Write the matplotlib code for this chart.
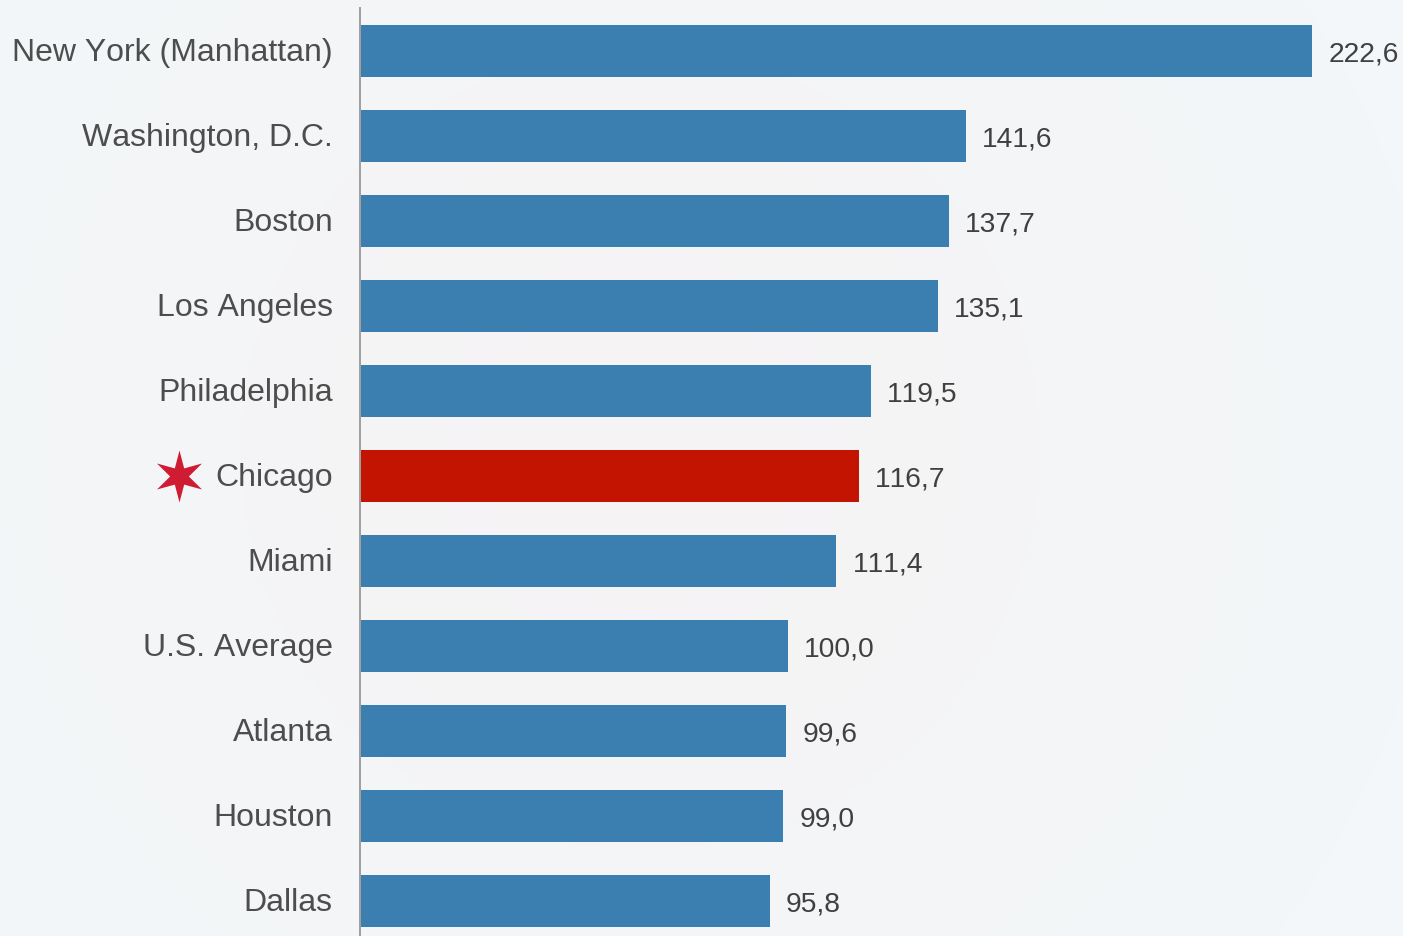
import numpy as np
import matplotlib
matplotlib.use("Agg")
import matplotlib.pyplot as plt
from matplotlib.path import Path

cities = ["New York (Manhattan)", "Washington, D.C.", "Boston", "Los Angeles",
          "Philadelphia", "Chicago", "Miami", "U.S. Average", "Atlanta",
          "Houston", "Dallas"]
values = [222.6, 141.6, 137.7, 135.1, 119.5, 116.7, 111.4, 100.0, 99.6, 99.0, 95.8]
highlight = "Chicago"

W, H, DPI = 1403, 937, 100
PX = 72 / DPI
plt.rcParams["font.family"] = ["Liberation Sans", "DejaVu Sans"]
plt.rcParams["text.kerning_factor"] = 20  # reference text is set without kerning

fig = plt.figure(figsize=(W / DPI, H / DPI), dpi=DPI)

# Soft radial page background
bg = fig.add_axes([0, 0, 1, 1], zorder=0)
yy, xx = np.mgrid[0:H, 0:W]
r = np.clip(np.hypot((xx - 640) / 800, (yy - 450) / 800), 0, 1)[..., None]
inner = np.array([0xF6, 0xF3, 0xF4]) / 255
outer = np.array([0xF3, 0xF7, 0xF9]) / 255
bg.imshow(inner + (outer - inner) * r, aspect="auto", interpolation="bilinear")
bg.axis("off")

# Plot axes
left, top, c0, scale = 360, 8, 51.7, 4.277
ax = fig.add_axes([left / W, 0, 1 - left / W, 1 - top / H], zorder=1)
ax.patch.set_alpha(0)
ax.set_xlim(0, (W - left) / scale)
ax.set_ylim((H - c0) / 85, (top - c0) / 85)

colors = ["#C21400" if c == highlight else "#3A7FAF" for c in cities]
ax.barh(range(len(cities)), values, height=52 / 85, color=colors, linewidth=0)

for s in ["top", "right", "bottom"]:
    ax.spines[s].set_visible(False)
ax.spines["left"].set_color("#A0A0A0")
ax.spines["left"].set_linewidth(2 * PX)
ax.spines["left"].set_capstyle("butt")
ax.set_xticks([])
ax.set_yticks([])

for i, (c, v) in enumerate(zip(cities, values)):
    ax.annotate(c, (0, i), xytext=(-27.2 * PX, -9.7 * PX), textcoords="offset points",
                ha="right", va="baseline", fontsize=23, color="#4D4D4D",
                annotation_clip=False)
    ax.annotate(f"{v:.1f}".replace(".", ","), (v, i), xytext=(16.2 * PX, -9.4 * PX),
                textcoords="offset points", ha="left", va="baseline",
                fontsize=20.3, color="#404040", annotation_clip=False)

# Six-pointed Chicago star beside the highlighted label
angles = np.deg2rad(np.arange(90, 450, 30))
radii = np.where(np.arange(12) % 2 == 0, 1.0, 0.36)
verts = np.column_stack([radii * np.cos(angles), radii * np.sin(angles)])
verts = np.vstack([verts, verts[0]])
codes = [Path.MOVETO] + [Path.LINETO] * 11 + [Path.CLOSEPOLY]
star = Path(verts, codes)
idx = cities.index(highlight)
ax.plot([(179 - left) / scale], [idx], marker=star, markersize=52 * PX,
        color="#D01C32", markeredgewidth=0, clip_on=False, linestyle="none")

fig.savefig("out.png", dpi=DPI)
